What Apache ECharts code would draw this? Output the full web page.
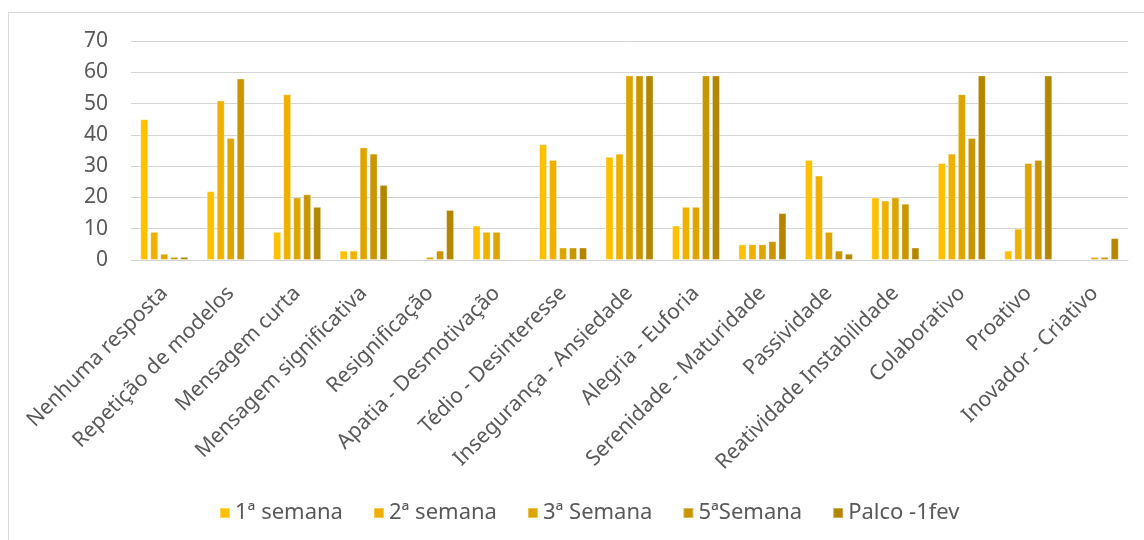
<!DOCTYPE html>
<html>
<head>
<meta charset="utf-8">
<title>Respostas por semana</title>
<script src="https://cdn.jsdelivr.net/npm/echarts@6/dist/echarts.min.js"></script>
<style>
  html, body { margin: 0; padding: 0; background: #ffffff; }
  #chart { width: 1144px; height: 540px; }
</style>
</head>
<body>
<div id="chart"></div>
<script>
// Categories on the x axis
const categories = [
  'Nenhuma resposta', 'Repetição de modelos', 'Mensagem curta',
  'Mensagem significativa', 'Resignificação', 'Apatia - Desmotivação',
  'Tédio - Desinteresse', 'Insegurança - Ansiedade', 'Alegria - Euforia',
  'Serenidade - Maturidade', 'Passividade', 'Reatividade Instabilidade',
  'Colaborativo', 'Proativo', 'Inovador - Criativo'
];

// Series names (legend) and their values per category
const seriesNames = ['1ª semana', '2ª semana', '3ª Semana', '5ªSemana', 'Palco -1fev'];

const semana1 = [45, 22, 9, 3, 0, 11, 37, 33, 11, 5, 32, 20, 31, 3, 0];
const semana2 = [9, 51, 53, 3, 0, 9, 32, 34, 17, 5, 27, 19, 34, 10, 0];
const semana3 = [2, 39, 20, 36, 1, 9, 4, 59, 17, 5, 9, 20, 53, 31, 1];
const semana5 = [1, 58, 21, 34, 3, 0, 4, 59, 59, 6, 3, 18, 39, 32, 1];
const palco   = [1, 0, 17, 24, 16, 0, 4, 59, 59, 15, 2, 4, 59, 59, 7];

// Y axis ticks
const yTicks = [0, 10, 20, 30, 40, 50, 60, 70];

const seriesValues = [semana1, semana2, semana3, semana5, palco];
const colors = ['#FFC000', '#F0B000', '#DEA500', '#C99500', '#B48600'];

const textColor = '#595959';
const fontFamily = '"Noto Sans", "Open Sans", sans-serif';

const chart = echarts.init(document.getElementById('chart'), null, { renderer: 'canvas' });

chart.setOption({
  animation: false,
  backgroundColor: '#ffffff',
  color: colors,
  textStyle: { fontFamily: fontFamily, color: textColor },
  graphic: [{
    type: 'rect',
    silent: true,
    shape: { x: 8.5, y: 12.5, width: 1200, height: 600 },
    style: { fill: 'none', stroke: '#d9d9d9', lineWidth: 1 }
  }],
  grid: { left: 131, right: 16, top: 41, height: 219 },
  legend: {
    left: 214,
    top: 495,
    itemWidth: 10,
    itemHeight: 10,
    itemGap: 30,
    icon: 'rect',
    textStyle: { fontSize: 22, color: textColor, fontFamily: fontFamily, lineHeight: 26 },
    data: seriesNames
  },
  xAxis: {
    type: 'category',
    data: categories,
    axisLine: { show: true, lineStyle: { color: '#d4d4d4', width: 1 } },
    axisTick: { show: false },
    axisLabel: {
      interval: 0,
      rotate: 45,
      margin: 30,
      fontSize: 21,
      color: textColor,
      fontFamily: fontFamily
    }
  },
  yAxis: {
    type: 'value',
    min: yTicks[0],
    max: yTicks[yTicks.length - 1],
    interval: yTicks[1] - yTicks[0],
    axisLine: { show: false },
    axisTick: { show: false },
    axisLabel: { fontSize: 21, color: textColor, margin: 23, fontFamily: fontFamily },
    splitLine: { lineStyle: { color: '#d4d4d4', width: 1 } }
  },
  series: seriesNames.map((name, i) => ({
    name: name,
    type: 'bar',
    barWidth: 8,
    barGap: '25%',
    itemStyle: {
      color: colors[i],
      borderColor: 'rgba(255,255,255,0.35)',
      borderWidth: 1
    },
    // zero counts leave an empty slot instead of a flat bar
    data: seriesValues[i].map(v => (v === 0 ? '-' : v))
  }))
});
</script>
</body>
</html>
